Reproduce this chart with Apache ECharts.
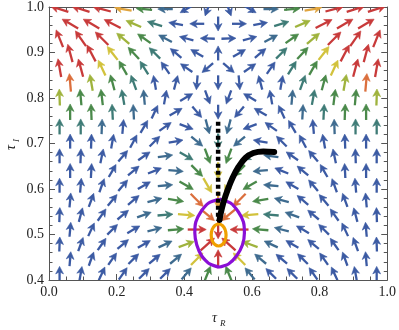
<!DOCTYPE html>
<html><head><meta charset="utf-8">
<script src="https://cdn.jsdelivr.net/npm/echarts@6/dist/echarts.min.js"></script>
<style>html,body{margin:0;padding:0;background:#fff}#c{width:399px;height:330px}</style>
</head><body><div id="c"></div>
<script>
// arrow sample grid (staggered rows)
const colsA = [0.03125,0.09375,0.15625,0.21875,0.28125,0.34375,0.40625,0.46875,0.53125,0.59375,0.65625,0.71875,0.78125,0.84375,0.90625,0.96875];
const colsB = [0.0625,0.125,0.1875,0.25,0.3125,0.375,0.4375,0.5,0.5625,0.625,0.6875,0.75,0.8125,0.875,0.9375];
const rowY = [0.414,0.4463,0.4786,0.5109,0.5432,0.5755,0.6078,0.6401,0.6724,0.7047,0.7370,0.7693,0.8016,0.8339,0.8662,0.8985,0.9308,0.9631,0.9954];
// arrow directions (degrees, 0 = right, 90 = up), bottom row first
const angleRows = [
 [90,80,65,55,45,45,50,68,112,130,135,135,125,115,100,90],
 [85,70,55,45,40,40,45,90,135,140,140,135,125,110,95],
 [88,70,55,40,30,25,20,42,138,160,155,150,140,125,110,92],
 [85,65,45,30,15,5,0,270,180,175,165,150,135,115,95],
 [88,75,55,40,20,5,-5,-40,220,185,175,160,140,125,105,92],
 [85,70,50,40,15,-10,-45,270,225,190,165,140,130,110,95],
 [90,85,70,50,30,5,-30,-60,240,210,175,150,130,110,95,90],
 [90,87,60,40,22,-5,-45,270,225,185,158,140,120,93,90],
 [90,88,78,50,35,8,-30,-70,250,210,172,145,130,102,92,90],
 [90,88,80,62,45,10,-40,270,220,170,135,118,100,92,90],
 [90,90,88,85,60,35,-20,-75,255,200,145,120,95,92,90,90],
 [90,92,93,93,65,30,-50,270,230,150,115,87,87,88,90],
 [92,95,97,100,95,80,30,-70,250,150,100,85,80,83,85,88],
 [95,100,105,110,100,75,265,270,275,105,80,70,75,80,85],
 [100,105,115,120,122,125,145,220,320,35,55,58,60,65,75,80],
 [105,118,128,133,135,140,150,90,30,40,45,47,52,62,75],
 [112,125,135,140,145,152,165,178,2,15,28,35,40,45,55,68],
 [150,150,153,157,163,170,180,270,0,10,17,23,27,30,30],
 [162,163,165,170,175,180,210,250,290,330,0,5,10,15,17,18]
];
// magnitude class (0 = slow/blue ... 8 = fast/red), bottom row first
const magRows = [
 [0,0,0,0,0,0,1,3,3,1,0,0,0,0,0,0],
 [0,0,0,0,0,1,5,8,5,1,0,0,0,0,0],
 [0,0,0,0,0,1,4,8,8,4,1,0,0,0,0,0],
 [0,0,0,0,1,3,8,8,8,3,1,0,0,0,0],
 [0,0,0,0,1,2,5,7,7,5,2,1,0,0,0,0],
 [0,0,0,0,1,3,7,6,7,3,1,0,0,0,0],
 [0,0,0,0,0,1,3,5,5,3,1,0,0,0,0,0],
 [0,0,0,0,0,1,3,5,3,1,0,0,0,0,0],
 [0,0,0,0,0,1,2,3,3,2,1,0,0,0,0,0],
 [0,0,0,0,0,0,1,2,1,0,0,0,0,0,0],
 [2,2,1,0,0,0,0,1,1,0,0,0,0,1,2,2],
 [3,3,2,1,0,0,0,0,0,0,0,1,2,3,3],
 [4,3,3,2,1,0,0,0,0,0,0,1,2,3,3,4],
 [7,4,3,2,0,0,0,0,0,0,0,2,3,4,7],
 [8,8,5,3,2,0,0,0,0,0,0,2,3,5,8,8],
 [8,8,5,3,2,0,0,0,0,0,2,3,5,8,8],
 [8,8,8,4,3,1,0,0,0,0,1,3,4,8,8,8],
 [8,8,8,4,2,0,0,0,0,0,2,4,8,8,8],
 [8,8,8,6,3,1,0,0,0,0,1,3,6,8,8,8]
];
// overlays
const purpleX = [0.5044,0.5367,0.5601,0.5748,0.5777,0.5718,0.5543,0.5308,0.5044,0.4751,0.4516,0.4370,0.4311,0.4340,0.4487,0.4721,0.5044];
const purpleY = [0.578,0.5692,0.5495,0.5275,0.5033,0.4769,0.4527,0.4352,0.4286,0.4352,0.4527,0.4769,0.5033,0.5275,0.5495,0.5692,0.578];
const orangeX = [0.5235,0.5205,0.5125,0.5015,0.4905,0.4824,0.4795,0.4824,0.4905,0.5015,0.5125,0.5205,0.5235];
const orangeY = [0.4989,0.5110,0.5198,0.5231,0.5198,0.5110,0.4989,0.4868,0.4780,0.4747,0.4780,0.4868,0.4989];
const dashX = [0.5,0.5];
const dashY = [0.748,0.53];
const blackX = [0.6657,0.6334,0.6041,0.5806,0.5601,0.5425,0.5279,0.5161,0.5073,0.5044];
const blackY = [0.6813,0.6824,0.6791,0.6681,0.6484,0.6242,0.5978,0.5714,0.5451,0.5319];
const xTicks = [0,0.2,0.4,0.6,0.8,1.0];
const yTicks = [0.4,0.5,0.6,0.7,0.8,0.9,1.0];

const palette = ['#3b5aa3','#3e6b8f','#3e7b76','#4a894a','#9fb33d','#d2c23c','#e0a43e','#db6f3d','#c83a3a'];
const arrowData = [];
rowY.forEach((y,k)=>{ const xs = (k%2===0)?colsA:colsB; xs.forEach((x,j)=>arrowData.push([x,y,angleRows[k][j],magRows[k][j]])); });
const zip=(a,b)=>a.map((v,i)=>[v,b[i]]);

function renderArrow(params, api){
  const p = api.coord([api.value(0), api.value(1)]);
  const a = api.value(2)*Math.PI/180, m = api.value(3);
  const L = 14.5 + 0.5*m;
  const dx = Math.cos(a), dy = -Math.sin(a), nx = -dy, ny = dx;
  const tip=[p[0]+dx*L/2, p[1]+dy*L/2], tail=[p[0]-dx*L/2, p[1]-dy*L/2];
  const h=7.5, w=3.9;
  const base=[tip[0]-dx*h, tip[1]-dy*h], notch=[tip[0]-dx*h*0.72, tip[1]-dy*h*0.72];
  const col = palette[m];
  return {type:'group', children:[
    {type:'line', shape:{x1:tail[0],y1:tail[1],x2:notch[0],y2:notch[1]}, style:{stroke:col,lineWidth:2.3}},
    {type:'polygon', shape:{points:[tip,[base[0]+nx*w,base[1]+ny*w],notch,[base[0]-nx*w,base[1]-ny*w]]}, style:{fill:col,stroke:col,lineWidth:0.6,lineJoin:'round'}}
  ]};
}
const font = "'Liberation Serif','Times New Roman',serif";
const frame = '#555';
function axisCommon(extra){
  return Object.assign({
    type:'value', splitLine:{show:false},
    axisLine:{show:true,onZero:false,lineStyle:{color:frame,width:1}},
    axisTick:{show:true,inside:true,length:6,lineStyle:{color:frame}},
    axisLabel:{show:true,fontFamily:font,fontSize:14,color:'#222',margin:5},
  }, extra);
}
const chart = echarts.init(document.getElementById('c'));
chart.setOption({
  animation:false,
  grid:{left:49,right:9,top:7,bottom:50},
  xAxis:[
    axisCommon({min:xTicks[0],max:xTicks[xTicks.length-1],interval:0.2,position:'bottom',minorTick:{show:true,splitNumber:4,length:3.5,lineStyle:{color:frame}},axisLabel:{fontFamily:font,fontSize:14,color:'#222',margin:5,formatter:v=>v.toFixed(1)}}),
    axisCommon({min:0,max:1,interval:0.2,position:'top',minorTick:{show:true,splitNumber:4,length:3.5,lineStyle:{color:frame}},axisLabel:{show:false}})
  ],
  yAxis:[
    axisCommon({min:yTicks[0],max:yTicks[yTicks.length-1],interval:0.1,position:'left',minorTick:{show:true,splitNumber:5,length:3.5,lineStyle:{color:frame}},axisLabel:{fontFamily:font,fontSize:14,color:'#222',margin:5,formatter:v=>v.toFixed(1)}}),
    axisCommon({min:0.4,max:1.0,interval:0.1,position:'right',minorTick:{show:true,splitNumber:5,length:3.5,lineStyle:{color:frame}},axisLabel:{show:false}})
  ],
  series:[
    {type:'custom',renderItem:renderArrow,data:arrowData,clip:true,z:2,silent:true},
    {type:'line',data:zip(purpleX,purpleY),showSymbol:false,smooth:0.2,lineStyle:{color:'#8a0fd6',width:3.2},z:3},
    {type:'line',data:zip(orangeX,orangeY),showSymbol:false,smooth:0.5,lineStyle:{color:'#f0a000',width:3.2},z:4},
    {type:'line',data:zip(dashX,dashY),showSymbol:false,lineStyle:{color:'#000',width:4.5,type:[4,3]},z:5},
    {type:'line',data:zip(blackX,blackY),showSymbol:false,smooth:0.4,lineStyle:{color:'#000',width:6,cap:'round'},z:6}
  ],
  graphic:[
    {type:'text',left:212,top:311,style:{text:'τ',font:'italic 14px '+font,fill:'#222'}},
    {type:'text',left:220,top:319,style:{text:'R',font:'italic 9px '+font,fill:'#222'}},
    {type:'text',x:4,y:150,rotation:Math.PI/2,style:{text:'τ',font:'italic 14px '+font,fill:'#222'}},
    {type:'text',x:12,y:142,rotation:Math.PI/2,style:{text:'I',font:'italic 9px '+font,fill:'#222'}}
  ]
});
</script></body></html>
